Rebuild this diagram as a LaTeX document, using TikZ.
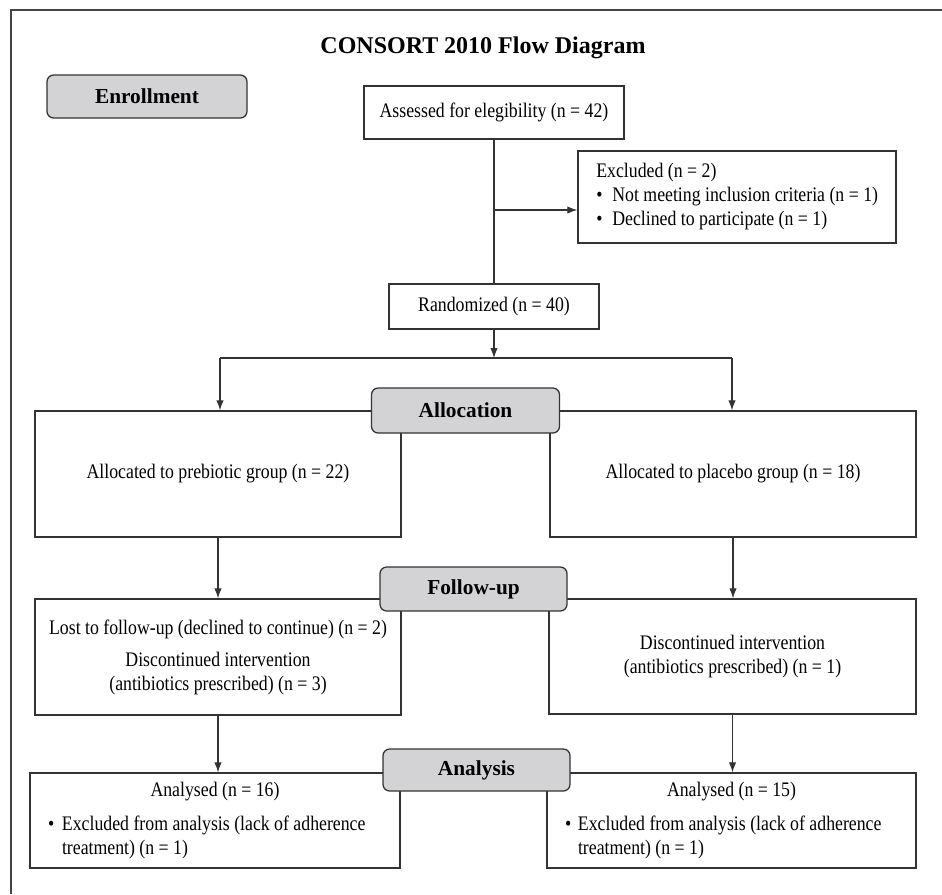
\documentclass[tikz,border=0pt]{standalone}
\usepackage{fontspec}
\setmainfont{Liberation Serif}
\newfontfamily\bodyfont[FakeStretch=0.86]{Liberation Serif}
\usetikzlibrary{arrows.meta}
\definecolor{boxline}{HTML}{333333}
\definecolor{framecol}{HTML}{444444}
\definecolor{stagegray}{HTML}{D3D3D5}
\def\u{0.75pt}
\begin{document}
\begin{tikzpicture}[x=0.75pt,y=-0.75pt,
  box/.style={draw=boxline, line width=0.95pt, fill=white, inner sep=0pt,
    font=\bodyfont\fontsize{15.5}{18}\selectfont},
  stage/.style={draw=boxline, line width=0.95pt, fill=stagegray, rounded corners=5pt,
    inner sep=0pt, font=\bfseries\fontsize{16}{19}\selectfont},
  arr/.style={-{Latex[length=7.5pt,width=5.5pt]}, line width=0.8pt, draw=boxline},
  conn/.style={line width=0.8pt, draw=boxline}]
\fill[white] (0,0) rectangle (942,894);
\useasboundingbox (0,0) rectangle (942,894);
\draw[line width=1.5pt, draw=framecol] (11,894) -- (11,10) -- (942,10);

\node[font=\bfseries\fontsize{18}{22}\selectfont] (title) at (483,48) {CONSORT 2010 Flow Diagram};

% enrollment
\node[box, minimum width=260*\u, minimum height=53*\u] (ass) at (494,112.5)
  {Assessed for elegibility (n = 42)};
\node[box, minimum width=318*\u, minimum height=92*\u] (exc) at (737,197)
  {\parbox{219pt}{\raggedright\hspace*{4pt}Excluded (n = 2)\\
   \hspace*{4pt}\makebox[12pt][l]{\textbullet}Not meeting inclusion criteria (n = 1)\\
   \hspace*{4pt}\makebox[12pt][l]{\textbullet}Declined to participate (n = 1)}};
\node[box, minimum width=210*\u, minimum height=45*\u] (rand) at (494,306.5)
  {Randomized (n = 40)};

% allocation
\node[box, minimum width=366*\u, minimum height=126*\u] (pre) at (218,474)
  {Allocated to prebiotic group (n = 22)};
\node[box, minimum width=366*\u, minimum height=126*\u] (pla) at (733,474)
  {Allocated to placebo group (n = 18)};

% follow-up
\node[box, minimum width=366*\u, minimum height=116*\u, align=center] (ful) at (218,657)
  {Lost to follow-up (declined to continue) (n = 2)\\[6pt]
   Discontinued intervention\\
   (antibiotics prescribed) (n = 3)};
\node[box, minimum width=367*\u, minimum height=115*\u, align=center] (fur) at (732.5,656.5)
  {Discontinued intervention\\
   (antibiotics prescribed) (n = 1)};

% analysis
\node[box, minimum width=370*\u, minimum height=95*\u] (anl) at (215,820.5)
  {\parbox{250.5pt}{{\centering Analysed (n = 16)\par}\vspace{7pt}
   \raggedright\makebox[10.5pt][l]{\textbullet}Excluded from analysis (lack of adherence\\
   \hspace*{10.5pt}treatment) (n = 1)}};
\node[box, minimum width=369*\u, minimum height=95*\u] (anr) at (731.5,820.5)
  {\parbox{249.75pt}{{\centering Analysed (n = 15)\par}\vspace{7pt}
   \raggedright\makebox[9.75pt][l]{\textbullet}Excluded from analysis (lack of adherence\\
   \hspace*{9.75pt}treatment) (n = 1)}};

% stage labels
\node[stage, minimum width=200*\u, minimum height=43*\u] (enr) at (147,96.5) {Enrollment};
\node[stage, minimum width=188*\u, minimum height=45*\u] (alloc) at (465.5,410.5) {Allocation};
\node[stage, minimum width=187*\u, minimum height=44*\u] (fup) at (473.5,589) {Follow-up};
\node[stage, minimum width=187*\u, minimum height=42*\u] (ana) at (476.5,770) {Analysis};

% connectors
\coordinate (br) at (494,210);
\coordinate (split) at (494,358);
\coordinate (sl) at (220,358);
\coordinate (sr) at (732,358);
\draw[conn] (ass.south) -- (rand.north);
\draw[arr] (br) -- (br -| exc.west);
\draw[arr] (rand.south) -- (split);
\draw[conn] (sl) -- (sr);
\draw[arr] (sl) -- (sl |- pre.north);
\draw[arr] (sr) -- (sr |- pla.north);
\draw[arr] (pre.south) -- (pre.south |- ful.north);
\draw[arr] (pla.south) -- (pla.south |- fur.north);
\draw[arr] (ful.south) -- (ful.south |- anl.north);
\draw[arr] (fur.south) -- (fur.south |- anr.north);
\end{tikzpicture}
\end{document}
